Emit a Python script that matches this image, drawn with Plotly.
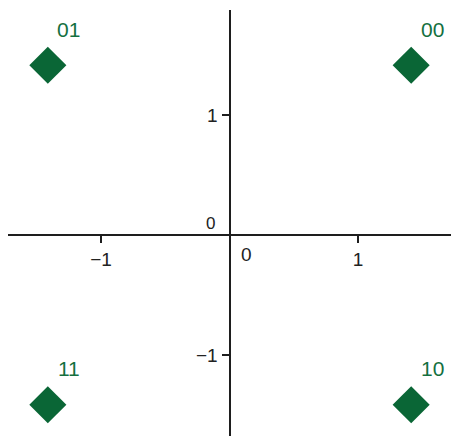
import plotly.graph_objects as go

# QPSK constellation data
labels = ["00", "01", "11", "10"]
i_vals = [1.414, -1.414, -1.414, 1.414]
q_vals = [1.414, 1.414, -1.414, -1.414]

x_tickvals = [-1, 1]
x_ticktext = ["\u22121", "1"]
y_tickvals = [-1, 1]
y_ticktext = ["\u22121", "1"]

green = "#0a6636"
label_green = "#14703f"
axis_col = "#1e1e1e"
FONT = "Liberation Sans, Arial, sans-serif"
xr = [-1.724, 1.724]
yr = [-1.675, 1.875]

fig = go.Figure()
fig.add_trace(go.Scatter(
    x=i_vals, y=q_vals, mode="markers",
    marker=dict(symbol="diamond", size=28.5, color=green, line=dict(width=0)),
    hoverinfo="text", text=labels, showlegend=False, cliponaxis=False,
))

for lab, xv, yv in zip(labels, i_vals, q_vals):
    fig.add_annotation(x=xv, y=yv, text=lab, showarrow=False,
                       xshift=21, yshift=36,
                       font=dict(family=FONT, size=21, color=label_green))

# zero labels
fig.add_annotation(x=0, y=0, text="0", showarrow=False, xshift=17, yshift=-19,
                   font=dict(family=FONT, size=19, color="#222"))
fig.add_annotation(x=0, y=0, text="0", showarrow=False, xshift=-19, yshift=12,
                   font=dict(family=FONT, size=17, color="#222"))

ypos = (0 - yr[0]) / (yr[1] - yr[0])
xpos = (0 - xr[0]) / (xr[1] - xr[0])

fig.update_layout(
    width=451, height=436,
    margin=dict(l=8, r=0, t=10, b=0),
    paper_bgcolor="white", plot_bgcolor="white",
    font=dict(family=FONT, size=19, color="#222"),
    xaxis=dict(range=xr, anchor="free", position=ypos, showgrid=False, zeroline=False,
               showline=True, linecolor=axis_col, linewidth=2,
               ticks="outside", ticklen=7, tickwidth=2, tickcolor=axis_col,
               tickvals=x_tickvals, ticktext=x_ticktext, fixedrange=True),
    yaxis=dict(range=yr, anchor="free", position=xpos, showgrid=False, zeroline=False,
               showline=True, linecolor=axis_col, linewidth=2,
               ticks="outside", ticklen=7, tickwidth=2, tickcolor=axis_col,
               tickvals=y_tickvals, ticktext=y_ticktext, fixedrange=True),
)

fig.write_html("out.html", config={"displayModeBar": False},
               post_script="document.body.style.margin='0';")
